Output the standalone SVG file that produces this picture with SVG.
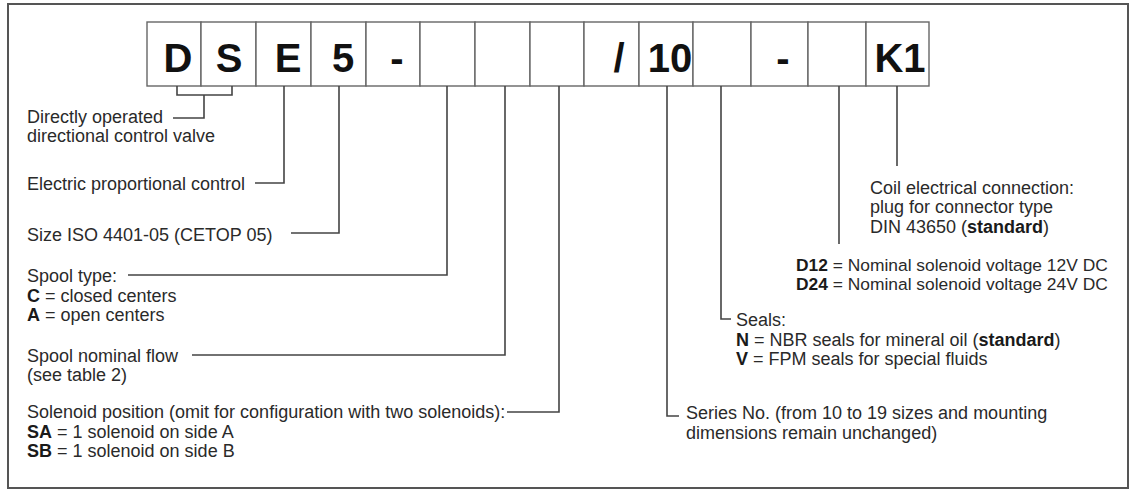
<svg xmlns="http://www.w3.org/2000/svg" width="1137" height="495" viewBox="0 0 1137 495">
<style>
.frame{fill:none;stroke:#555;stroke-width:2}
.box{fill:#fff;stroke:#666;stroke-width:1.4}
.code{font-family:"Liberation Sans",Arial,sans-serif;font-weight:bold;font-size:40px;fill:#111;text-anchor:middle}
.lbl{font-family:"Liberation Sans",Arial,sans-serif;font-size:18px;fill:#2a2a2a}
.sm{font-size:17.4px}
.b{font-weight:bold;fill:#1a1a1a}
.conn line,.conn polyline{fill:none;stroke:#444;stroke-width:1.6}
</style>
<rect width="1137" height="495" fill="#fff"/>
<rect class="frame" x="8" y="4" width="1120" height="484"/>
<g id="code">
<g id="box1"><rect class="box" x="147" y="22" width="54" height="64"/><text class="code" x="178" y="72">D</text></g>
<g id="box2"><rect class="box" x="201" y="22" width="55" height="64"/><text class="code" x="229" y="72">S</text></g>
<g id="box3"><rect class="box" x="256" y="22" width="55" height="64"/><text class="code" x="288" y="72">E</text></g>
<g id="box4"><rect class="box" x="311" y="22" width="55" height="64"/><text class="code" x="343" y="72">5</text></g>
<g id="box5"><rect class="box" x="366" y="22" width="54" height="64"/><text class="code" x="397" y="72">-</text></g>
<g id="box6"><rect class="box" x="420" y="22" width="55" height="64"/></g>
<g id="box7"><rect class="box" x="475" y="22" width="55" height="64"/></g>
<g id="box8"><rect class="box" x="530" y="22" width="54" height="64"/></g>
<g id="box9"><rect class="box" x="584" y="22" width="55" height="64"/><text class="code" x="619" y="72">/</text></g>
<g id="box10"><rect class="box" x="639" y="22" width="54" height="64"/><text class="code" x="670" y="72">10</text></g>
<g id="box11"><rect class="box" x="693" y="22" width="58" height="64"/></g>
<g id="box12"><rect class="box" x="751" y="22" width="57" height="64"/><text class="code" x="783" y="72">-</text></g>
<g id="box13"><rect class="box" x="808" y="22" width="58" height="64"/></g>
<g id="box14"><rect class="box" x="866" y="22" width="63" height="64"/><text class="code" x="900" y="72">K1</text></g>
</g>
<g id="connectors" class="conn">
<polyline points="177,86 177,95 232,95 232,86"/>
<polyline points="204,95 204,118 173,118"/>
<polyline points="284,86 284,183 255,183"/>
<polyline points="339,86 339,233 291,233"/>
<polyline points="447,86 447,275 128,275"/>
<polyline points="505,86 505,355 192,355"/>
<polyline points="559,86 559,412 507,412"/>
<polyline points="667,86 667,416 679,416"/>
<polyline points="721,86 721,319 731,319"/>
<line x1="839" y1="86" x2="839" y2="244"/>
<line x1="897" y1="86" x2="897" y2="166"/>
</g>
<g id="lbl-directly"><text class="lbl" x="27" y="122.5">Directly operated</text><text class="lbl" x="27" y="142">directional control valve</text></g>
<g id="lbl-electric"><text class="lbl" x="27" y="190">Electric proportional control</text></g>
<g id="lbl-size"><text class="lbl" x="27" y="240.5">Size ISO 4401-05 (CETOP 05)</text></g>
<g id="lbl-spooltype"><text class="lbl" x="27" y="282">Spool type:</text><text class="lbl" x="27" y="301.5"><tspan class="b">C</tspan> = closed centers</text><text class="lbl" x="27" y="321"><tspan class="b">A</tspan> = open centers</text></g>
<g id="lbl-flow"><text class="lbl" x="27" y="361.5">Spool nominal flow</text><text class="lbl" x="27" y="381">(see table 2)</text></g>
<g id="lbl-solenoid"><text class="lbl" x="27" y="418">Solenoid position (omit for configuration with two solenoids):</text><text class="lbl" x="27" y="437.5"><tspan class="b">SA</tspan> = 1 solenoid on side A</text><text class="lbl" x="27" y="457"><tspan class="b">SB</tspan> = 1 solenoid on side B</text></g>
<g id="lbl-series"><text class="lbl" x="686" y="419">Series No. (from 10 to 19 sizes and mounting</text><text class="lbl" x="686" y="438.5">dimensions remain unchanged)</text></g>
<g id="lbl-seals"><text class="lbl" x="736" y="326">Seals:</text><text class="lbl" x="736" y="346"><tspan class="b">N</tspan> = NBR seals for mineral oil (<tspan class="b">standard</tspan>)</text><text class="lbl" x="736" y="365"><tspan class="b">V</tspan> = FPM seals for special fluids</text></g>
<g id="lbl-voltage"><text class="lbl sm" x="796" y="271"><tspan class="b">D12</tspan> = Nominal solenoid voltage 12V DC</text><text class="lbl sm" x="796" y="290"><tspan class="b">D24</tspan> = Nominal solenoid voltage 24V DC</text></g>
<g id="lbl-coil"><text class="lbl" x="870" y="194">Coil electrical connection:</text><text class="lbl" x="870" y="213">plug for connector type</text><text class="lbl" x="870" y="232.5">DIN 43650 (<tspan class="b">standard</tspan>)</text></g>
</svg>
